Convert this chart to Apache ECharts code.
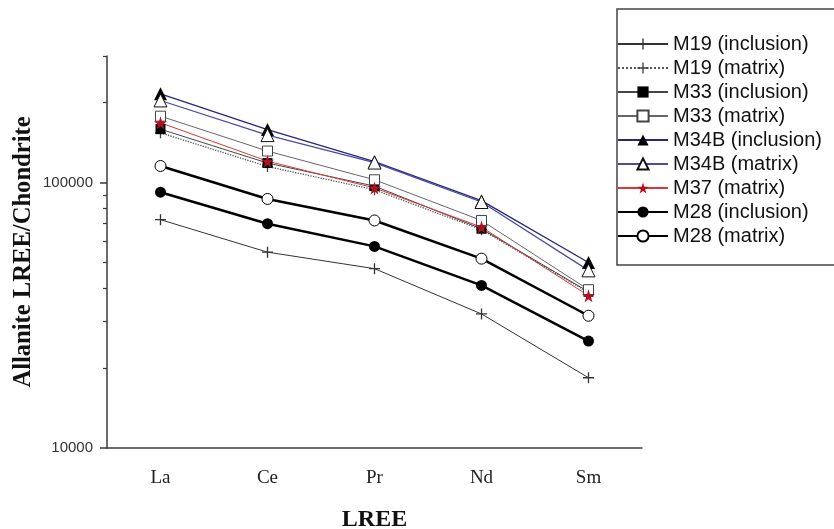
<!DOCTYPE html>
<html>
<head>
<meta charset="utf-8">
<title>Allanite LREE</title>
<script src="https://cdn.jsdelivr.net/npm/echarts@6/dist/echarts.min.js"></script>
<style>
  html, body { margin: 0; padding: 0; background: #fff; }
  #chart { width: 834px; height: 529px; }
</style>
</head>
<body>
<div id="chart"></div>
<script>
  // categories on x
  const lree = ['La', 'Ce', 'Pr', 'Nd', 'Sm'];

  // chondrite-normalised values (La..Sm)
  const m19Inclusion = [72500, 54700, 47400, 32000, 18400];
  const m19Matrix = [154000, 115000, 94000, 66500, 38500];
  const m33Inclusion = [159000, 118500, 97000, 67000, 38800];
  const m33Matrix = [178000, 131500, 102500, 72000, 39500];
  const m34bInclusion = [216000, 158500, 120000, 85500, 50000];
  const m34bMatrix = [204000, 151000, 119000, 84500, 46700];
  const m37Matrix = [168000, 120500, 95500, 68000, 37500];
  const m28Inclusion = [92000, 70000, 57500, 41000, 25300];
  const m28Matrix = [115500, 86800, 72000, 51700, 31500];

  // y ticks with labels; minor ones come from minorTick
  const majorTicks = [10000, 100000];
  const topTick = [300000];

  const serif = '"Liberation Serif", "Times New Roman", serif';
  const sans = '"Liberation Sans", Arial, sans-serif';

  // symbols not built in
  const plusPath = 'path://M4.4,0 H5.6 V4.4 H10 V5.6 H5.6 V10 H4.4 V5.6 H0 V4.4 H4.4 Z';
  const starPath = 'path://M50,0 L61,35 L98,35 L68,57 L79,91 L50,70 L21,91 L32,57 L2,35 L39,35 Z';

  const mkSeries = (name, data, symbol, size, fill, border, lineColor, lineWidth, lineType) => ({
    name: name,
    type: 'line',
    data: data,
    symbol: symbol,
    symbolSize: size,
    showAllSymbol: true,
    animation: false,
    itemStyle: {
      color: fill,
      borderColor: border,
      borderWidth: border ? 1 : 0,
      opacity: 1
    },
    lineStyle: {
      color: lineColor,
      width: lineWidth,
      type: lineType || 'solid'
    },
    emphasis: { disabled: true }
  });

  const chart = echarts.init(document.getElementById('chart'));
  chart.setOption({
    backgroundColor: '#fff',
    grid: {
      left: 107,
      right: 192,
      top: 56,
      bottom: 81,
      containLabel: false,
      outerBoundsMode: 'none'
    },
    legend: {
      orient: 'vertical',
      left: 617,
      top: 9,
      padding: [25, 20, 19, 0],
      itemWidth: 50,
      itemHeight: 14,
      itemGap: 4,
      borderColor: '#444',
      borderWidth: 1.5,
      borderRadius: 0,
      textStyle: {
        fontFamily: sans,
        fontSize: 20,
        color: '#111'
      },
      data: ['M19 (inclusion)', 'M19 (matrix)', 'M33 (inclusion)', 'M33 (matrix)',
        'M34B (inclusion)', 'M34B (matrix)', 'M37 (matrix)', 'M28 (inclusion)', 'M28 (matrix)']
    },
    xAxis: {
      type: 'category',
      data: lree,
      boundaryGap: true,
      axisLine: { lineStyle: { color: '#3a3a3a', width: 1.5 } },
      axisTick: { alignWithLabel: true, length: 4, lineStyle: { color: '#3a3a3a', width: 1.5 } },
      axisLabel: { fontFamily: serif, fontSize: 19, color: '#222', margin: 21 },
      splitLine: { show: false },
      name: 'LREE',
      nameLocation: 'middle',
      nameGap: 60,
      nameTextStyle: { fontFamily: serif, fontSize: 24, fontWeight: 'bold', color: '#111' }
    },
    yAxis: [
      {
        type: 'log',
        logBase: 10,
        min: 10000,
        max: 300000,
        axisLine: { show: true, lineStyle: { color: '#3a3a3a', width: 1.5 } },
        axisTick: { show: true, length: 7, interval: 0, customValues: majorTicks, lineStyle: { color: '#3a3a3a', width: 1.5 } },
        minorTick: { show: true, splitNumber: 9, length: 4, lineStyle: { color: '#3a3a3a', width: 1.2 } },
        axisLabel: {
          customValues: majorTicks,
          interval: 0,
          fontFamily: sans,
          fontSize: 15,
          color: '#333',
          margin: 14,
          formatter: function (v) { return String(v); }
        },
        splitLine: { show: false },
        minorSplitLine: { show: false }
      },
      {
        // short tick at the top end, and the axis title
        // (title sits here so it does not hide the minor ticks of the main axis)
        type: 'log',
        logBase: 10,
        min: 10000,
        max: 300000,
        position: 'left',
        axisLine: { show: false },
        axisTick: { show: true, length: 4, interval: 0, customValues: topTick, lineStyle: { color: '#3a3a3a', width: 1.2 } },
        axisLabel: { show: true, customValues: topTick, interval: 0, formatter: function () { return ''; } },
        splitLine: { show: false },
        name: 'Allanite LREE/Chondrite',
        nameLocation: 'middle',
        nameGap: 71,
        nameMoveOverlap: false,
        nameTextStyle: { fontFamily: serif, fontSize: 24.6, fontWeight: 'bold', color: '#111' }
      }
    ],
    series: [
      mkSeries('M19 (inclusion)', m19Inclusion, plusPath, 11, '#333', null, '#333', 1),
      mkSeries('M19 (matrix)', m19Matrix, plusPath, 11, '#444', null, '#555', 1.3, 'dotted'),
      mkSeries('M33 (inclusion)', m33Inclusion, 'rect', 10, '#000', null, '#444', 1),
      mkSeries('M33 (matrix)', m33Matrix, 'rect', 10, '#fff', '#444', '#666', 1),
      mkSeries('M34B (inclusion)', m34bInclusion, 'triangle', 13, '#000', null, '#26267e', 1.3),
      mkSeries('M34B (matrix)', m34bMatrix, 'triangle', 13, '#fff', '#111', '#4a4aa0', 1.2),
      mkSeries('M37 (matrix)', m37Matrix, starPath, 13, '#b01020', null, '#d83a3a', 1),
      mkSeries('M28 (inclusion)', m28Inclusion, 'circle', 11, '#000', null, '#000', 2.5),
      mkSeries('M28 (matrix)', m28Matrix, 'circle', 11, '#fff', '#000', '#000', 2.5)
    ]
  });

  window.onresize = function () {
    chart.resize();
  };
</script>
</body>
</html>
